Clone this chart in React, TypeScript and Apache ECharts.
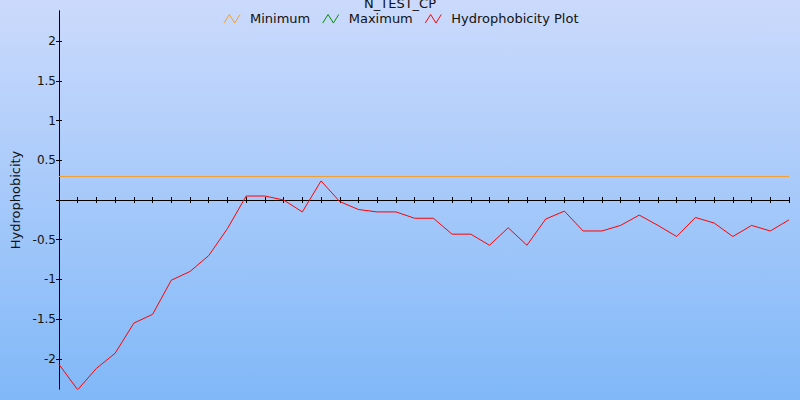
import React, { useEffect, useRef } from "react";
import * as echarts from "echarts";

const TITLE = "N_TEST_CP";
const Y_NAME = "Hydrophobicity";

const positions = [
  "1", "2", "3", "4", "5", "6", "7", "8", "9", "10",
  "11", "12", "13", "14", "15", "16", "17", "18", "19", "20",
  "21", "22", "23", "24", "25", "26", "27", "28", "29", "30",
  "31", "32", "33", "34", "35", "36", "37", "38", "39", "40",
];

const hydrophobicity = [
  -2.07, -2.39, -2.12, -1.93, -1.55, -1.44, -1.01, -0.9, -0.7, -0.36,
  0.05, 0.05, 0.0, -0.15, 0.24, -0.02, -0.12, -0.15, -0.15, -0.23,
  -0.23, -0.43, -0.43, -0.57, -0.35, -0.57, -0.24, -0.14, -0.39, -0.39,
  -0.32, -0.19, -0.32, -0.46, -0.22, -0.29, -0.46, -0.32, -0.39, -0.25,
];

const minimumLevel = 0.3;
const yMin = -2.38;
const yMax = 2.38;
const yLabelValues = [-2, -1.5, -1, -0.5, 0.5, 1, 1.5, 2];
const yTickValues = [-2, -1.5, -1, -0.5, 0, 0.5, 1, 1.5, 2];

const FONT = "DejaVu Sans";
const ZIGZAG = "path://M0,9 L5,1 L10,9 L15,1";

export default function App() {
  const ref = useRef<HTMLDivElement>(null);

  useEffect(() => {
    if (!ref.current) return;
    const chart = echarts.init(ref.current, null, { renderer: "svg" });

    const legendItem = (name: string, color: string) => ({
      name,
      icon: ZIGZAG,
      itemStyle: { color: "none", borderColor: color, borderWidth: 1 },
    });

    chart.setOption({
      animation: false,
      backgroundColor: {
        type: "linear",
        x: 0, y: 0, x2: 0, y2: 1,
        colorStops: [
          { offset: 0, color: "#cbdafc" },
          { offset: 1, color: "#80b8f8" },
        ],
      },
      title: {
        text: TITLE,
        left: "center",
        top: -3,
        padding: 0,
        textStyle: { fontFamily: FONT, fontSize: 13, fontWeight: "normal", color: "#111" },
      },
      legend: {
        top: 12,
        left: "center",
        padding: 0,
        itemWidth: 16,
        itemHeight: 10,
        itemGap: 10,
        textStyle: { fontFamily: FONT, fontSize: 13, color: "#111", padding: [0, 0, 0, 5] },
        data: [
          legendItem("Minimum", "#f0a030"),
          legendItem("Maximum", "#009000"),
          legendItem("Hydrophobicity Plot", "#ff0000"),
        ],
      },
      grid: { left: 59, right: 11, top: 11, bottom: 11, containLabel: false },
      xAxis: [
        {
          type: "category",
          data: positions,
          boundaryGap: false,
          position: "bottom",
          axisLine: { onZero: true, onZeroAxisIndex: 0, lineStyle: { color: "#000", width: 1 } },
          axisTick: { show: true, inside: false, length: 3, interval: 0, lineStyle: { color: "#000" } },
          axisLabel: { show: false },
          splitLine: { show: false },
        },
        {
          type: "category",
          data: positions,
          boundaryGap: false,
          position: "top",
          axisLine: { onZero: true, onZeroAxisIndex: 1, lineStyle: { color: "#000", width: 1 } },
          axisTick: { show: true, inside: false, length: 3, interval: 0, lineStyle: { color: "#000" } },
          axisLabel: { show: false },
          splitLine: { show: false },
        },
      ],
      yAxis: [
        {
          type: "value",
          min: yMin,
          max: yMax,
          position: "left",
          name: Y_NAME,
          nameLocation: "middle",
          nameGap: 37,
          nameTextStyle: { fontFamily: FONT, fontSize: 13, color: "#111" },
          axisLine: { show: true, lineStyle: { color: "#000", width: 1 } },
          axisTick: { show: true, inside: false, length: 3, customValues: yTickValues, lineStyle: { color: "#000" } },
          axisLabel: { show: true, margin: 3, customValues: yLabelValues, fontFamily: FONT, fontSize: 12, color: "#111" },
          splitLine: { show: false },
        },
        {
          type: "value",
          min: yMin,
          max: yMax,
          position: "left",
          axisLine: { show: true, lineStyle: { color: "#000", width: 1 } },
          axisTick: { show: true, inside: true, length: 3, customValues: yTickValues, lineStyle: { color: "#000" } },
          axisLabel: { show: false },
          splitLine: { show: false },
        },
      ],
      series: [
        {
          name: "Minimum",
          type: "line",
          data: [],
          color: "#f0a030",
          markLine: {
            silent: true,
            symbol: "none",
            label: { show: false },
            lineStyle: { color: "#f0a030", width: 1, type: "solid" },
            data: [{ yAxis: minimumLevel }],
          },
        },
        {
          name: "Maximum",
          type: "line",
          data: [],
          color: "#009000",
        },
        {
          name: "Hydrophobicity Plot",
          type: "line",
          data: hydrophobicity,
          color: "#ff0000",
          showSymbol: false,
          symbol: "none",
          lineStyle: { color: "#ff0000", width: 1 },
        },
      ],
    });

    return () => chart.dispose();
  }, []);

  return (
    <div
      ref={ref}
      style={{ position: "fixed", left: 0, top: 0, width: 800, height: 400 }}
    />
  );
}
